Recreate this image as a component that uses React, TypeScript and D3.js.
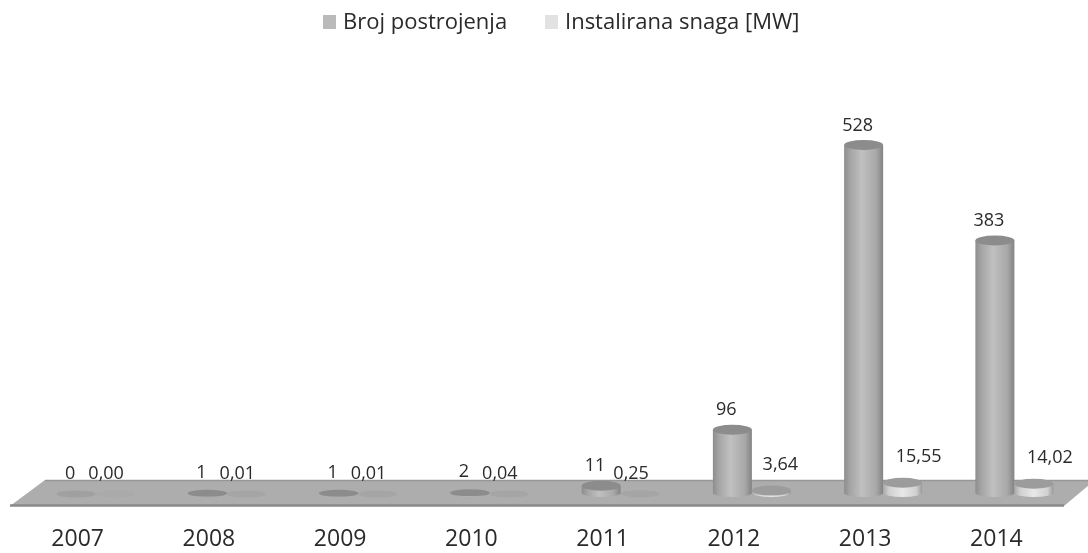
import React, { useEffect, useRef } from "react";
import * as d3 from "d3";

const years = ["2007", "2008", "2009", "2010", "2011", "2012", "2013", "2014"];
const brojPostrojenja = [0, 1, 1, 2, 11, 96, 528, 383];
const instaliranaSnaga = [0, 0.01, 0.01, 0.04, 0.25, 3.64, 15.55, 14.02];
const seriesNames = ["Broj postrojenja", "Instalirana snaga [MW]"];

const WIDTH = 1088;
const HEIGHT = 553;
const FONT = "'Open Sans', Lato, sans-serif";
const TEXT_COLOR = "#2a2a2a";

const App = () => {
  const svgRef = useRef<SVGSVGElement>(null);

  useEffect(() => {
    const svg = d3.select(svgRef.current);
    svg.selectAll("*").remove();

    const x = d3.scaleBand().domain(years).range([12, 1062]);
    const inner = d3.scaleBand().domain(seriesNames).range([-21, 57]);
    const y = d3.scaleLinear().domain([0, 528]).range([493, 145]);
    const rx = inner.bandwidth() / 2;
    const ry = 5;

    const defs = svg.append("defs");
    // the source is a soft, upscaled scan
    defs
      .append("filter")
      .attr("id", "soft")
      .append("feGaussianBlur")
      .attr("stdDeviation", 0.6);

    const addGradient = (id: string, stops: [number, string][]) => {
      const g = defs.append("linearGradient").attr("id", id);
      stops.forEach(([o, c]) =>
        g.append("stop").attr("offset", o).attr("stop-color", c)
      );
    };
    addGradient("bodyA", [
      [0, "#8d8d8d"],
      [0.15, "#a4a4a4"],
      [0.45, "#c0c0c0"],
      [0.82, "#a8a8a8"],
      [1, "#838383"],
    ]);
    addGradient("bodyB", [
      [0, "#a8a8a8"],
      [0.15, "#d0d0d0"],
      [0.5, "#e8e8e8"],
      [0.85, "#d0d0d0"],
      [1, "#9a9a9a"],
    ]);

    const root = svg.append("g").attr("filter", "url(#soft)");

    // floor of the 3d chart
    const floor = d3.line();
    root
      .append("path")
      .attr("d", floor([[10, 506], [45, 480], [1095, 480], [1064, 506]]) + "Z")
      .attr("fill", "#adadad");
    root
      .append("path")
      .attr("d", floor([[45, 480.5], [1094, 480.5]]))
      .attr("stroke", "#979797")
      .attr("stroke-width", 1.5);
    root
      .append("path")
      .attr("d", floor([[10, 505.5], [1064, 505.5]]))
      .attr("stroke", "#8a8a8a")
      .attr("stroke-width", 2.5);

    const drawSeries = (
      values: number[],
      name: string,
      body: string,
      topFill: string,
      flatFill: string
    ) => {
      const bars = root
        .append("g")
        .selectAll("g")
        .data(values)
        .join("g")
        .attr(
          "transform",
          (_, i) =>
            `translate(${x(years[i])! + x.bandwidth() / 2 + inner(name)! + rx},0)`
        );
      bars
        .append("path")
        .attr(
          "d",
          (d) =>
            `M${-rx},${y(d)}V${y(0)}A${rx},${ry - 1} 0 0 0 ${rx},${y(0)}V${y(d)}Z`
        )
        .attr("fill", `url(#${body})`)
        .attr("opacity", (d) => (d < 0.5 ? 0 : 1));
      bars
        .append("ellipse")
        .attr("cy", (d) => y(d) + (d < 3 ? 1 : 0))
        .attr("rx", rx)
        .attr("ry", (d) => (d < 3 ? 3.5 : ry))
        .attr("fill", (d) => (d < 3 ? flatFill : topFill))
        .attr("opacity", (d) => (d === 0 ? 0.4 : 1));
    };

    drawSeries(brojPostrojenja, seriesNames[0], "bodyA", "#8c8c8c", "#8c8c8c");
    drawSeries(instaliranaSnaga, seriesNames[1], "bodyB", "#9c9c9c", "#a5a5a5");

    const labels = root
      .append("g")
      .attr("font-family", FONT)
      .attr("font-size", 18)
      .attr("fill", TEXT_COLOR)
      .attr("text-anchor", "middle");

    labels
      .selectAll("text.a")
      .data(brojPostrojenja)
      .join("text")
      .attr("class", "a")
      .attr("x", (_, i) => x(years[i])! + x.bandwidth() / 2 + inner(seriesNames[0])! + rx - 6)
      .attr("y", (d) => y(d) - 14.5)
      .text((d) => d);

    labels
      .selectAll("text.b")
      .data(instaliranaSnaga)
      .join("text")
      .attr("class", "b")
      .attr("x", (d, i) => {
        const dx = d < 1 ? -9 : d < 10 ? 9 : 16;
        return x(years[i])! + x.bandwidth() / 2 + inner(seriesNames[1])! + rx + dx;
      })
      .attr("y", (d) => y(d) - (d < 1 ? 14 : 21))
      .text((d) => d.toFixed(2).replace(".", ","));

    // category axis
    const axis = root
      .append("g")
      .attr("transform", "translate(0,524)")
      .call(d3.axisBottom(x).tickSize(0).tickPadding(6));
    axis.select(".domain").remove();
    axis
      .selectAll("text")
      .attr("font-family", FONT)
      .attr("font-size", 23)
      .attr("fill", TEXT_COLOR);

    // legend
    const legend = root
      .append("g")
      .selectAll("g")
      .data(seriesNames)
      .join("g")
      .attr("transform", (_, i) => `translate(${i === 0 ? 323 : 545},15)`);
    legend
      .append("rect")
      .attr("width", 13)
      .attr("height", 14)
      .attr("fill", (_, i) => (i === 0 ? "#bababa" : "#e2e2e2"));
    legend
      .append("text")
      .attr("x", 20)
      .attr("y", 14)
      .attr("font-family", FONT)
      .attr("font-size", 22)
      .attr("fill", TEXT_COLOR)
      .text((d) => d);
  }, []);

  return (
    <svg
      ref={svgRef}
      width={WIDTH}
      height={HEIGHT}
      style={{ position: "absolute", left: 0, top: 0, background: "#fff" }}
    />
  );
};

export default App;
